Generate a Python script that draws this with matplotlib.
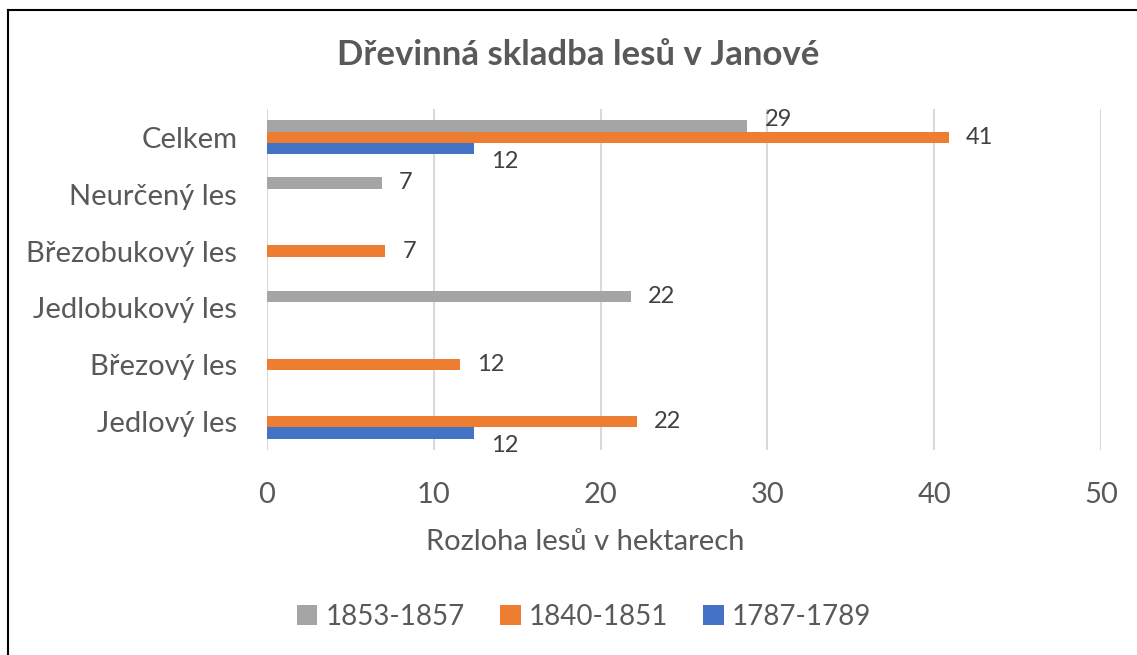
import numpy as np
import matplotlib
matplotlib.use("Agg")
import matplotlib.pyplot as plt
from matplotlib.patches import Patch
from matplotlib.lines import Line2D

categories = ["Jedlový les", "Březový les", "Jedlobukový les",
              "Březobukový les", "Neurčený les", "Celkem"]
series_names = ["1853-1857", "1840-1851", "1787-1789"]
vals_1853 = [np.nan, np.nan, 21.8, np.nan, 6.9, 28.8]
vals_1840 = [22.2, 11.6, np.nan, 7.1, np.nan, 40.9]
vals_1787 = [12.4, np.nan, np.nan, np.nan, np.nan, 12.4]
x_ticks = [0, 10, 20, 30, 40, 50]
title = "Dřevinná skladba lesů v Janové"
xlabel = "Rozloha lesů v hektarech"

colors = {"1853-1857": "#A5A5A5", "1840-1851": "#ED7D31", "1787-1789": "#4472C4"}
txt = "#595959"
plt.rcParams["font.family"] = ["Lato", "DejaVu Sans"]

W, H = 1137, 655
fig = plt.figure(figsize=(W / 100, H / 100), dpi=100)
ax = fig.add_axes([267 / W, 1 - 450 / H, (1101 - 267) / W, (450 - 109) / H])

y = np.arange(len(categories))
h = 0.2
data = {"1853-1857": vals_1853, "1840-1851": vals_1840, "1787-1789": vals_1787}
offsets = {"1853-1857": h, "1840-1851": 0.0, "1787-1789": -h}

for name in series_names:
    v = np.array(data[name], dtype=float)
    ax.barh(y + offsets[name], np.nan_to_num(v), height=h, color=colors[name], zorder=3)
    for i, val in enumerate(v):
        if np.isnan(val):
            continue
        nbars = sum(0 if np.isnan(data[s][i]) else 1 for s in series_names)
        dy = 0
        if name == "1787-1789":
            dy = -13
        elif name == "1853-1857" and nbars > 1:
            dy = 7
        ax.annotate(f"{val:.0f}", (val, y[i] + offsets[name]), xytext=(17, dy),
                    textcoords="offset pixels", ha="left", va="center",
                    fontsize=17, color="#404040", zorder=4)

ax.set_xlim(0, 50)
ax.set_ylim(-0.5, len(categories) - 0.5)
ax.set_xticks(x_ticks)
ax.set_yticks(y)
ax.set_yticklabels(categories)
ax.tick_params(axis="both", length=0, labelsize=21, colors=txt)
ax.tick_params(axis="y", pad=21.5)
ax.tick_params(axis="x", pad=23)
ax.grid(axis="x", color="#D9D9D9", linewidth=1.5, zorder=0)
for s in ax.spines.values():
    s.set_visible(False)

fig.text(585 / W, 1 - 542 / H, xlabel, ha="center", va="center", fontsize=21, color=txt)
fig.text(578 / W, 1 - 55 / H, title, ha="center", va="center", fontsize=25,
         fontweight="bold", color=txt)

handles = [Patch(facecolor=colors[n], edgecolor="none") for n in series_names]
fig.legend(handles, series_names, loc="center", bbox_to_anchor=(584 / W, 1 - 617 / H),
           ncol=3, frameon=False, fontsize=20, handlelength=0.75, handleheight=0.75,
           handletextpad=0.3, columnspacing=1.25, labelcolor=txt)

fig.add_artist(Line2D([8 / W, 8 / W], [0, 1 - 10 / H], color="black", linewidth=1.5,
                      transform=fig.transFigure))
fig.add_artist(Line2D([8 / W, 1], [1 - 10 / H, 1 - 10 / H], color="black", linewidth=1.5,
                      transform=fig.transFigure))

fig.savefig("out.png", dpi=100)
